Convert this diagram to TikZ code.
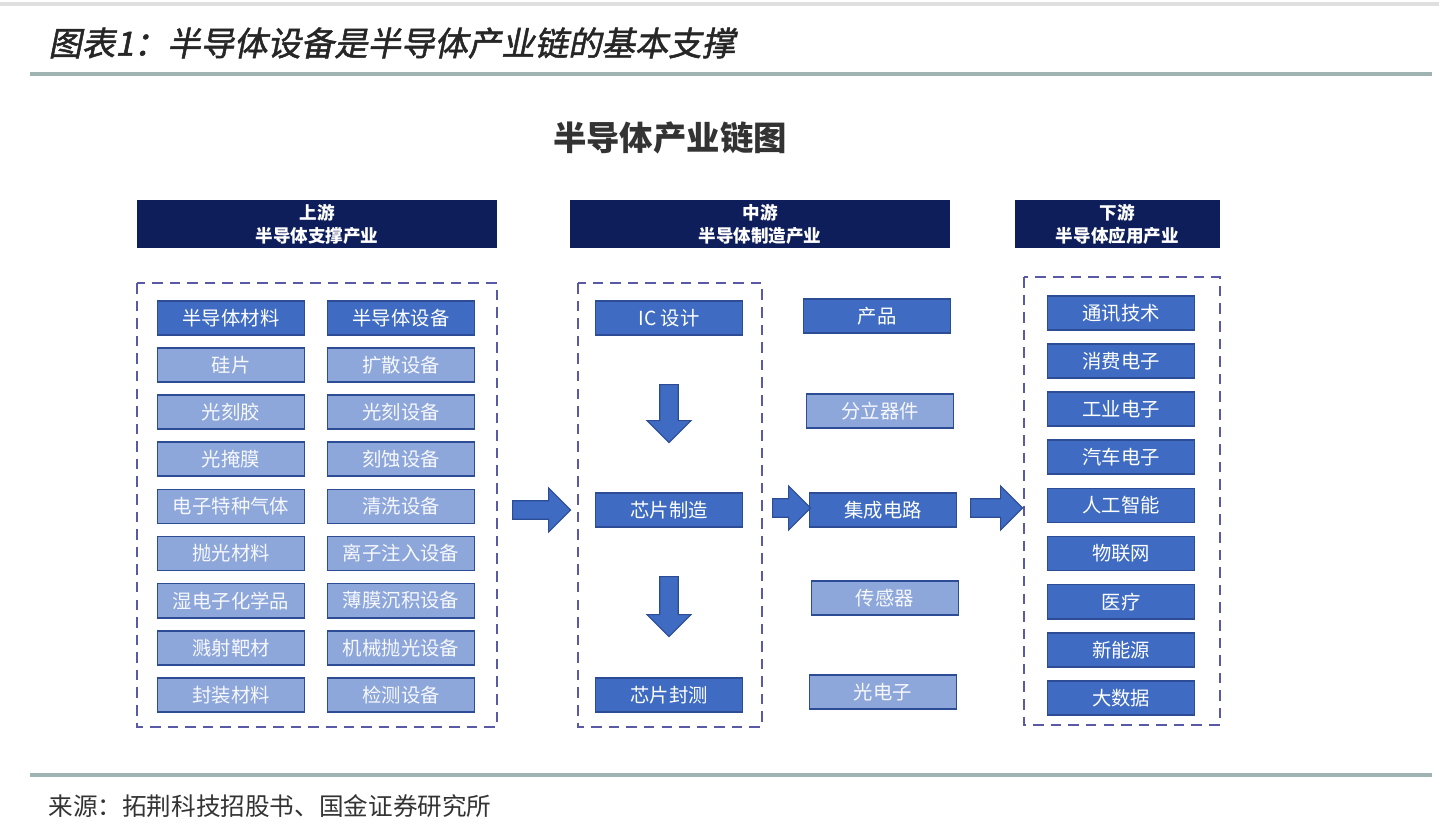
\documentclass[tikz,border=0pt]{standalone}
\usepackage{fontspec}
\setmainfont{Noto Sans CJK SC}
\newfontfamily\cjktitle[FakeSlant=0.2,FakeBold=1.5]{Noto Sans CJK SC}
\usetikzlibrary{shapes.arrows,positioning}
\definecolor{navy}{HTML}{0E1E5B}
\definecolor{darkbox}{HTML}{3F6CC2}
\definecolor{lightbox}{HTML}{8EA7DB}
\definecolor{boxedge}{HTML}{2C4C96}
\definecolor{rulecol}{HTML}{9FB3B3}
\tikzset{
  head/.style={fill=navy,text=white,minimum width=#1,minimum height=4.8mm,inner sep=0pt,
    align=center,font=\fontsize{5}{6.5}\selectfont\bfseries},
  dark/.style={fill=darkbox,draw=boxedge,line width=0.5pt,text=white,minimum width=14.7mm,
    minimum height=3.4mm,inner sep=0pt,font=\fontsize{5.5}{6.5}\selectfont},
  light/.style={dark,fill=lightbox,text=white!92!lightbox},
  frame/.style={draw=gray!70!blue,line width=0.8pt,dash pattern=on 3pt off 2pt},
  blockarrow/.style={single arrow,fill=darkbox,draw=boxedge,line width=0.3pt,
    minimum height=#1,minimum width=4.4mm,single arrow head extend=0.9mm,inner sep=0.6mm},
}
\begin{document}
\begin{tikzpicture}[x=0.01cm,y=-0.01cm]
\useasboundingbox (0,0) rectangle (1439,832);
%rules and titles
\draw[gray!25,line width=1.2pt](0,4)--(1439,4);
\node[anchor=west,font=\fontsize{9.5}{11}\selectfont\cjktitle,text=black!85] (title) at (36,43) {图表1：半导体设备是半导体产业链的基本支撑};
\draw[rulecol,line width=1pt](30,74)--(1432,74);
\node[font=\fontsize{9.5}{11}\selectfont\bfseries,text=black!80] (charttitle) at (670,138) {半导体产业链图};
\draw[rulecol,line width=1pt](30,775)--(1432,775);
\node[anchor=west,font=\fontsize{7}{9}\selectfont,text=black!80] (source) at (36,806) {来源：拓荆科技招股书、国金证券研究所};
%headers
\node[head=36mm] (up) at (317,224) {上游\\半导体支撑产业};
\node[head=38mm] (mid) at (760,224) {中游\\半导体制造产业};
\node[head=20.5mm] (down) at (1117.5,224) {下游\\半导体应用产业};
%dashed frames
\draw[frame] (137,283) rectangle (497,727);
\draw[frame] (578,283) rectangle (762,727);
\draw[frame] (1024,277) rectangle (1220,725);
%upstream boxes
\node[dark] (mat0) at (231,318) {半导体材料};
\node[dark] (eqp0) at (401,318) {半导体设备};
\foreach \t [count=\i] in {硅片,光刻胶,光掩膜,电子特种气体,抛光材料,湿电子化学品,溅射靶材,封装材料}
  \node[light] (mat\i) at (231,{318+47.1*\i}) {\t};
\foreach \t [count=\i] in {扩散设备,光刻设备,刻蚀设备,清洗设备,离子注入设备,薄膜沉积设备,机械抛光设备,检测设备}
  \node[light] (eqp\i) at (401,{318+47.1*\i}) {\t};
%midstream
\node[dark] (design) at (669,318) {IC 设计};
\node[dark] (fab) at (669,510) {芯片制造};
\node[dark] (pack) at (669,695) {芯片封测};
\node[blockarrow=5.8mm,shape border rotate=270] (a1) at (669,409) {};
\node[blockarrow=6mm,shape border rotate=270] (a2) at (669,602) {};
\node[dark] (prod) at (877,316) {产品};
\node[light] (discrete) at (880,411) {分立器件};
\node[dark] (ic) at (883,510) {集成电路};
\node[light] (sensor) at (885,598) {传感器};
\node[light] (opto) at (883,692) {光电子};
%downstream
\foreach \t [count=\i from 0] in {通讯技术,消费电子,工业电子,汽车电子,人工智能,物联网,医疗,新能源,大数据}
  \node[dark] (app\i) at (1121,{313+48.1*\i}) {\t};
%flow arrows
\node[blockarrow=5.8mm] (f1) at (537,510) {};
\node[blockarrow=3.8mm] (f2) at (787,508) {};
\node[blockarrow=5.2mm] (f3) at (992,508) {};
\end{tikzpicture}
\end{document}
